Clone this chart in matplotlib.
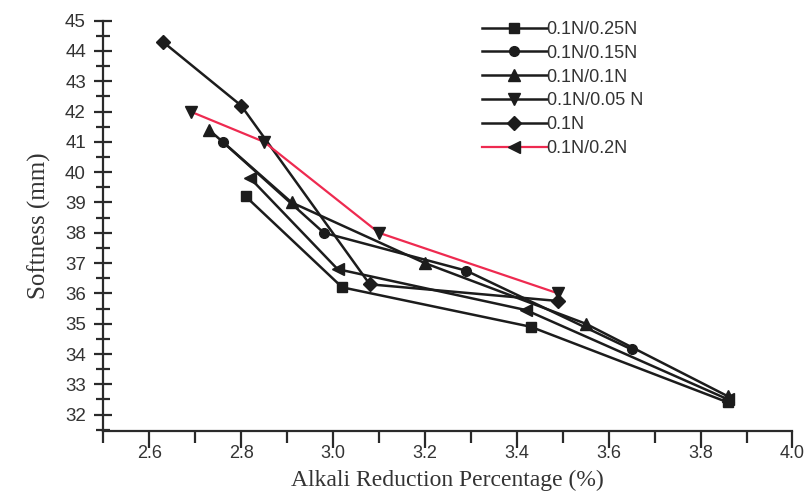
import matplotlib.pyplot as plt
from matplotlib.lines import Line2D
from matplotlib.ticker import MultipleLocator

plt.rcParams['font.family'] = ['Liberation Sans', 'DejaVu Sans']

# series (x = alkali reduction %, y = softness mm)
x_025 = [2.81, 3.02, 3.43, 3.86]
y_025 = [39.2, 36.2, 34.9, 32.4]

x_015 = [2.76, 2.98, 3.29, 3.65]
y_015 = [41.0, 38.0, 36.75, 34.15]

x_010 = [2.73, 2.91, 3.20, 3.55, 3.86]
y_010 = [41.4, 39.0, 37.0, 35.0, 32.6]

x_005 = [2.69, 2.85, 3.10, 3.49]
y_005 = [42.0, 41.0, 38.0, 36.0]

x_01 = [2.63, 2.80, 3.08, 3.49]
y_01 = [44.3, 42.2, 36.3, 35.75]

x_02 = [2.82, 3.01, 3.42, 3.86]
y_02 = [39.8, 36.8, 35.45, 32.5]

labels = ['0.1N/0.25N', '0.1N/0.15N', '0.1N/0.1N', '0.1N/0.05 N', '0.1N', '0.1N/0.2N']
xticks = [2.6, 2.8, 3.0, 3.2, 3.4, 3.6, 3.8, 4.0]
yticks = list(range(32, 46))

black = '#1c1c1c'
red = '#ee2a50'
grey = '#2a2a2a'

fig = plt.figure(figsize=(8.08, 4.96), dpi=100)
ax = fig.add_axes([0.1278, 0.1317, 0.853, 0.8266])

# the original figure draws the 0.05 N series with the red line
ax.plot(x_025, y_025, color=black, lw=1.8, marker='s', ms=7, mfc=black, mec=black)
ax.plot(x_015, y_015, color=black, lw=1.8, marker='o', ms=7, mfc=black, mec=black)
ax.plot(x_010, y_010, color=black, lw=1.8, marker='^', ms=8, mfc=black, mec=black)
ax.plot(x_02, y_02, color=black, lw=1.8, marker='<', ms=8, mfc=black, mec=black)
ax.plot(x_01, y_01, color=black, lw=1.8, marker='D', ms=7, mfc=black, mec=black)
ax.plot(x_005, y_005, color=red, lw=1.6, marker='v', ms=8, mfc=black, mec=black)

ax.set_xlim(2.5, 4.0)
ax.set_ylim(31.47, 45)
ax.set_xticks(xticks)
ax.set_xticklabels([f'{v:.1f}' for v in xticks])
ax.set_yticks(yticks)
ax.xaxis.set_minor_locator(MultipleLocator(0.1))
ax.yaxis.set_minor_locator(MultipleLocator(0.5))

for s in ['top', 'right']:
    ax.spines[s].set_visible(False)
for s in ['left', 'bottom']:
    ax.spines[s].set_linewidth(1.6)
    ax.spines[s].set_color(grey)

ax.tick_params(axis='x', which='major', direction='out', length=12, width=1.6,
               pad=-2, labelsize=13, colors=grey, labelcolor='#333333')
ax.tick_params(axis='x', which='minor', direction='out', length=8.5, width=1.6,
               colors=grey)
ax.tick_params(axis='y', which='major', direction='inout', length=13, width=1.6,
               pad=6, labelsize=13.5, colors=grey, labelcolor='#333333')
ax.tick_params(axis='y', which='minor', direction='inout', length=10, width=1.6,
               colors=grey)

ax.set_xlabel('Alkali Reduction Percentage (%)', family='Liberation Serif',
              fontsize=17, color='#333333', labelpad=6)
ax.set_ylabel('Softness (mm)', family='Liberation Serif', fontsize=18,
              color='#333333', labelpad=10)

handles = [
    Line2D([], [], color=black, lw=1.8, marker='s', ms=7, mfc=black, mec=black),
    Line2D([], [], color=black, lw=1.8, marker='o', ms=7, mfc=black, mec=black),
    Line2D([], [], color=black, lw=1.8, marker='^', ms=8, mfc=black, mec=black),
    Line2D([], [], color=black, lw=1.8, marker='v', ms=8, mfc=black, mec=black),
    Line2D([], [], color=black, lw=1.8, marker='D', ms=7, mfc=black, mec=black),
    Line2D([], [], color=red, lw=1.6, marker='<', ms=8, mfc=black, mec=black),
]
leg = fig.legend(handles, labels, loc='upper left', bbox_to_anchor=(0.596, 0.958),
                 frameon=False, handlelength=3.6, handletextpad=0.0,
                 labelspacing=0.38, borderpad=0, borderaxespad=0,
                 prop={'family': 'Liberation Sans', 'size': 13})
for t in leg.get_texts():
    t.set_color('#333333')

fig.savefig('out.png', dpi=100)
